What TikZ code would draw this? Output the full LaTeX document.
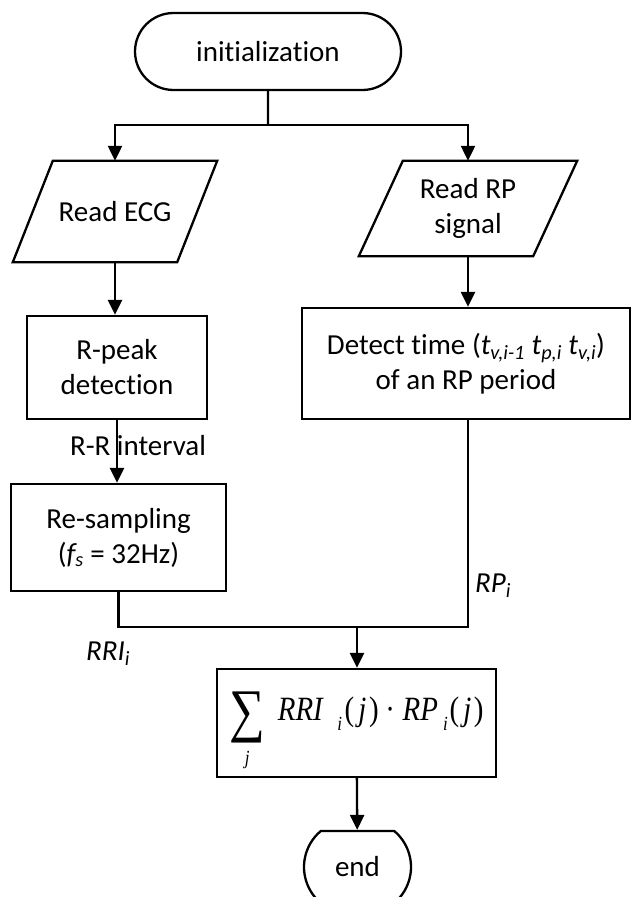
\documentclass[tikz,border=0pt]{standalone}
\usepackage{graphicx}
\usepackage{fontspec}
\setmainfont{Carlito}[Ligatures=CommonOff]
\newfontfamily\eqfont{Liberation Serif}[Ligatures=CommonOff]
\usetikzlibrary{shapes.misc,arrows.meta}

% big sum sign with the index set under it
\newcommand{\sumj}{\setbox0\hbox{\fontsize{59}{59}\selectfont ∑}%
    \raisebox{-10pt}{\copy0}\llap{\hbox to \wd0{\hss\raisebox{-44pt}{\fontsize{20}{20}\selectfont\itshape j}\hss}}}
\newcommand{\lowi}{\raisebox{-10pt}{\fontsize{20}{20}\selectfont\itshape i}}
\newcommand{\ofj}{(\hspace{5pt}{\itshape j}\hspace{3pt})}

\begin{document}
\begin{tikzpicture}[
        x=1pt, y=-1pt,
        font=\fontsize{29}{35}\selectfont,
        base/.style={draw, line width=2.3pt, align=center, inner sep=2pt},
        terminal/.style={base, rounded rectangle},
        io/.style={rectangle, align=center, inner sep=2pt},
        box/.style={base, rectangle},
        line/.style={line width=2.3pt},
        arrow/.style={line, -{Triangle[length=15pt,width=14pt]}},
        lbl/.style={font=\fontsize{29}{35}\selectfont\itshape, inner sep=0pt}
    ]
        \useasboundingbox (0,0) rectangle (632,897);
        \clip (0,0) rectangle (632,897);

        % Start, then the two input branches
        \node[terminal, minimum width=270pt, minimum height=77pt] (init) at (268,51.5) {initialization};

        \node[io, minimum width=204pt, minimum height=101pt] (ecg) at (115,211.5) {Read ECG};
        \node[io, minimum width=218pt, minimum height=95pt] (rpsig) at (468,208.5) {Read RP\\signal};

        % parallelogram outlines of the inputs
        \draw[line] (ecg.south west) -- ([xshift=40pt]ecg.north west) -- (ecg.north east) -- ([xshift=-40pt]ecg.south east) -- cycle;
        \draw[line] (rpsig.south west) -- ([xshift=44pt]rpsig.north west) -- (rpsig.north east) -- ([xshift=-44pt]rpsig.south east) -- cycle;

        % ECG branch
        \node[box, minimum width=180pt, minimum height=103pt] (rpeak) at (117,367.5) {R-peak\\detection};

        \node[anchor=base, inner sep=0pt] (rrint) at (138,455) {R-R interval};

        \node[box, minimum width=215pt, minimum height=107pt] (resamp) at (118.5,537.5) {Re-sampling\\({\itshape f\textsubscript{s}} = 32Hz)};

        % RP branch
        \node[box, minimum width=328pt, minimum height=111pt] (detect) at (466,363.5) {Detect time ({\itshape t\textsubscript{v,i-1} t\textsubscript{p,i} t\textsubscript{v,i}})\\of an RP period};

        \node[lbl, anchor=base west] (rpi) at (475,592) {RP\textsubscript{i}};
        \node[lbl, anchor=base west] (rri) at (86,660) {RRI\textsubscript{i}};

        % Sum of products and end
        \node[box, minimum width=279pt, minimum height=108pt, text height=47pt, text depth=53pt] (sum) at (356.5,723) {\eqfont\fontsize{34}{38}\selectfont
            \scalebox{0.85}[1]{\sumj\hspace{15pt}{\itshape RRI}\hspace{17pt}\lowi\hspace{3pt}\ofj\hspace{8pt}·\hspace{9pt}{\itshape RP}\hspace{6pt}\lowi\hspace{2pt}\ofj}};

        \node[terminal, rounded rectangle arc length=100, minimum width=111pt, minimum height=72pt] (end) at (357.5,867) {end};

        % Arrows
        \coordinate (split) at (268,125);
        \coordinate (join) at (357,627);

        \draw[line] (init) -- (split);
        \draw[arrow] (split) -| (ecg.north);
        \draw[arrow] (split) -| (rpsig.north);
        \draw[arrow] (ecg.south) -- (ecg.south |- rpeak.north);
        \draw[arrow] (rpsig.south) -- (rpsig.south |- detect.north);
        \draw[arrow] (rpeak.south) -- (rpeak.south |- resamp.north);
        \draw[line] (resamp.south) |- (join);
        \draw[line] (rpsig.south |- detect.south) |- (join);
        \draw[arrow] (join) -- (join |- sum.north);
        \draw[arrow] (sum) -- (end);

    \end{tikzpicture}
\end{document}
